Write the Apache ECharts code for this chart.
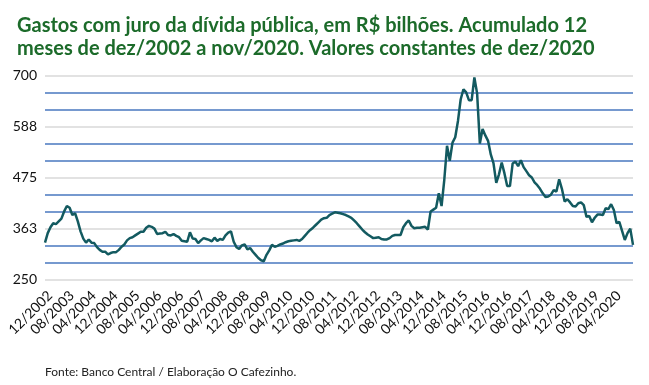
<!DOCTYPE html>
<html>
<head>
<meta charset="utf-8">
<script src="https://cdn.jsdelivr.net/npm/echarts@6/dist/echarts.min.js"></script>
<style>html,body{margin:0;padding:0;background:#fff}#c{width:649px;height:385px}</style>
</head>
<body>
<div id="c"></div>
<script>
const titleText = 'Gastos com juro da dívida pública, em R$ bilhões. Acumulado 12\nmeses de dez/2002 a nov/2020. Valores constantes de dez/2020';
const sourceText = 'Fonte: Banco Central / Elaboração O Cafezinho.';
const yTicks = [250, 363, 475, 588, 700];
const startYear = 2002, startMonth = 12, monthCount = 216;
const values = [
331,352,365,374,372,378,384,400,412,408,392,396,378,356,340,331,338,331,330,321,
315,311,311,305,308,310,310,315,322,327,336,341,343,347,351,355,355,364,368,366,
362,350,351,352,355,348,347,350,346,343,335,334,333,354,340,339,330,336,341,339,
337,334,342,335,339,337,347,353,356,333,321,317,325,327,316,319,311,304,297,292,
290,304,314,326,322,324,327,329,332,334,335,336,337,335,339,346,353,359,364,370,
376,382,385,386,392,395,398,397,396,394,392,389,386,380,374,367,360,354,349,345,
341,342,343,339,338,338,341,346,348,348,348,365,374,380,368,363,364,364,365,366,
360,400,404,408,440,412,470,545,512,552,564,600,648,670,663,646,646,696,661,550,
582,568,556,526,506,463,482,508,484,456,456,506,510,500,513,498,489,480,475,464,
458,450,440,432,433,437,447,444,471,450,422,427,420,412,411,418,420,414,388,390,
376,386,393,393,392,407,405,416,403,374,377,357,337,352,362,326
];
const categories = [];
for (let k = 0; k < monthCount; k++) {
  const m = (startMonth - 1 + k) % 12 + 1;
  const y = startYear + Math.floor((startMonth - 1 + k) / 12);
  categories.push((m < 10 ? '0' : '') + m + '/' + y);
}
const chart = echarts.init(document.getElementById('c'));
chart.setOption({
  animation: false,
  title: {
    text: titleText,
    left: 12, top: 9,
    textStyle: {fontFamily: 'Lato', fontWeight: 'bold', fontSize: 20, color: '#1c6b2a', lineHeight: 23}
  },
  graphic: [{
    type: 'text', left: 45, top: 366,
    style: {text: sourceText, fontFamily: 'Lato', fontSize: 12, fill: '#222'}
  }],
  grid: {left: 45, right: 16, top: 75.7, bottom: 105.7, containLabel: false},
  xAxis: {
    type: 'category', data: categories, boundaryGap: false,
    axisLine: {show: false}, axisTick: {show: false},
    axisLabel: {interval: 7, rotate: 45, margin: 9, verticalAlign: 'top', fontFamily: 'Lato', fontSize: 14, color: '#111'},
    splitLine: {show: false}
  },
  yAxis: {
    type: 'value', min: 250, max: 700, interval: 112.5,
    axisLine: {show: false}, axisTick: {show: false},
    axisLabel: {margin: 8, fontFamily: 'Lato', fontSize: 14, color: '#111',
      formatter: v => String(yTicks[Math.round((v - 250) / 112.5)])},
    splitLine: {lineStyle: {color: '#d9d9d9', width: 1.5}},
    minorTick: {show: false, splitNumber: 3},
    minorSplitLine: {show: true, lineStyle: {color: '#4a78c0', width: 1.5}}
  },
  series: [{
    type: 'line', data: values, symbol: 'none',
    lineStyle: {color: '#135a60', width: 2.5}
  }]
});
</script>
</body>
</html>
